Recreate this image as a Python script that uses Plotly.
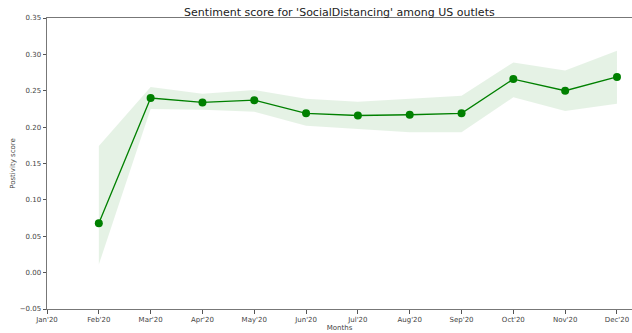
import plotly.graph_objects as go

# Month axis (Jan'20 is shown as a tick but has no observation)
all_months = ["Jan'20", "Feb'20", "Mar'20", "Apr'20", "May'20", "Jun'20",
              "Jul'20", "Aug'20", "Sep'20", "Oct'20", "Nov'20", "Dec'20"]
months = all_months[1:]

# Mean positivity score per month
score = [0.068, 0.240, 0.234, 0.237, 0.219, 0.216, 0.217, 0.219, 0.266, 0.250, 0.269]
# Confidence band bounds
upper = [0.174, 0.255, 0.246, 0.251, 0.239, 0.235, 0.239, 0.243, 0.289, 0.278, 0.305]
lower = [0.011, 0.225, 0.224, 0.221, 0.202, 0.197, 0.193, 0.193, 0.241, 0.222, 0.232]

yticks = [-0.05, 0.00, 0.05, 0.10, 0.15, 0.20, 0.25, 0.30, 0.35]

green = "#008000"
font_family = "DejaVu Sans"

fig = go.Figure()
fig.add_trace(go.Scatter(x=months, y=upper, mode="lines",
                         line=dict(width=0), hoverinfo="skip", showlegend=False))
fig.add_trace(go.Scatter(x=months, y=lower, mode="lines", fill="tonexty",
                         fillcolor="rgba(0,128,0,0.1)", line=dict(width=0),
                         hoverinfo="skip", showlegend=False))
fig.add_trace(go.Scatter(x=months, y=score, mode="lines+markers",
                         line=dict(color=green, width=1.3),
                         marker=dict(color=green, size=8), showlegend=False))

fig.update_layout(
    width=632, height=333,
    margin=dict(l=47, r=0, t=18, b=24),
    paper_bgcolor="white", plot_bgcolor="white",
    font=dict(family=font_family, size=7, color="#444"),
    title=dict(text="Sentiment score for 'SocialDistancing' among US outlets",
               x=0.537, xanchor="center", y=0.965, yanchor="middle",
               font=dict(size=11, color="#222", family=font_family)),
)
fig.update_xaxes(
    type="category", categoryorder="array", categoryarray=all_months,
    range=[0, 11.29], showgrid=False, zeroline=False,
    showline=True, linecolor="#777", linewidth=1, mirror=True,
    ticks="outside", ticklen=3.5, tickcolor="#555",
    tickfont=dict(size=7, color="#444"),
    title=dict(text="Months", standoff=1, font=dict(size=7, color="#444")),
)
fig.update_yaxes(
    range=[-0.05, 0.35], tickvals=yticks,
    ticktext=[f"{v:.2f}".replace("-", "\u2212") for v in yticks],
    showgrid=False, zeroline=False,
    showline=True, linecolor="#777", linewidth=1,
    ticks="outside", ticklen=3.5, tickcolor="#555",
    tickfont=dict(size=7, color="#444"),
    title=dict(text="Postivity score", standoff=3, font=dict(size=7, color="#444")),
)

fig.write_html("out.html")
